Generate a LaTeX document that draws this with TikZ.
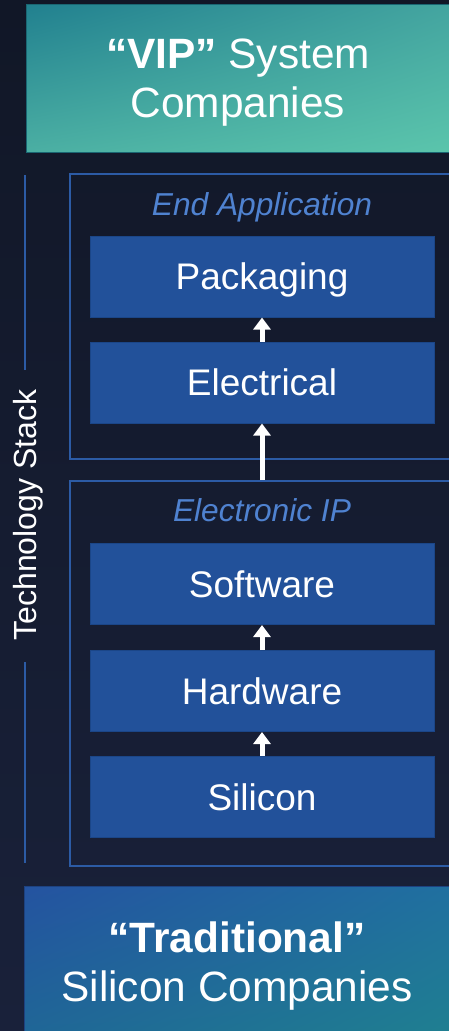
\documentclass[tikz,border=0pt]{standalone}
\usepackage{fontspec}
\setmainfont{Liberation Sans}
\usetikzlibrary{arrows.meta,shadings}
\definecolor{bgtop}{HTML}{111727}
\definecolor{bgbot}{HTML}{19213A}
\definecolor{boxfill}{HTML}{22519A}
\definecolor{boxedge}{HTML}{1B4688}
\definecolor{frameblue}{HTML}{2C5BA5}
\definecolor{titleblue}{HTML}{4F82D0}
\definecolor{tealA}{HTML}{21808F}
\definecolor{tealB}{HTML}{44A5A0}
\definecolor{tealC}{HTML}{4BAFA3}
\definecolor{tealD}{HTML}{5BC5AC}
\definecolor{blueA}{HTML}{2453A0}
\definecolor{blueB}{HTML}{2070A0}
\definecolor{blueC}{HTML}{1F6796}
\definecolor{blueD}{HTML}{1F8090}
\tikzset{
  stackbox/.style={rectangle, fill=boxfill, draw=boxedge, line width=1pt,
    minimum width=344pt, minimum height=81pt, inner sep=0pt,
    text=white, font=\fontsize{37}{44}\selectfont, text height=26.5pt, text depth=0pt},
  framebox/.style={rectangle, draw=frameblue, line width=2pt, inner sep=0pt},
  frametitle/.style={anchor=base, text=titleblue, font=\fontsize{31.7}{38}\selectfont\itshape, inner sep=0pt},
  bigtext/.style={anchor=base, text=white, font=\fontsize{42.4}{50}\selectfont, inner sep=0pt},
  uparrow/.style={draw=white, line width=5pt, -{Triangle[width=17pt,length=12pt]}},
  stackline/.style={draw=frameblue, line width=2.2pt}
}
\begin{document}
\begin{tikzpicture}[x=1pt,y=-1pt]
\useasboundingbox (0,0) rectangle (449,1031);
\clip (0,0) rectangle (449,1031);
\shade[top color=bgtop, bottom color=bgbot] (0,0) rectangle (449,1031);

% top box
\shade[upper left=tealA, upper right=tealB, lower left=tealC, lower right=tealD] (26,4) rectangle (455,152);
\draw[draw=tealA!80!black, line width=1pt] (26,4) rectangle (455,152);
\node[bigtext] (vip1) at (238,68) {\textbf{“VIP”} System};
\node[bigtext] (vip2) at (238,117) {Companies};

% bottom box
\shade[upper left=blueA, upper right=blueB, lower left=blueC, lower right=blueD] (24,886) rectangle (455,1040);
\draw[draw=blueA!80!black, line width=1pt] (24,886) rectangle (455,1040);
\node[bigtext] (trad1) at (237,952) {\textbf{“Traditional”}};
\node[bigtext] (trad2) at (237,1001) {Silicon Companies};

% frames
\node[framebox, minimum width=385pt, minimum height=285pt] (endapp) at (262.5,316.5) {};
\node[framebox, minimum width=385pt, minimum height=385pt] (ipbox) at (262.5,673.5) {};
\node[frametitle] (endt) at (262,215) {End Application};
\node[frametitle] (ipt) at (262,521.5) {Electronic IP};

% stack boxes
\node[stackbox] (pack) at (262,276.5) {Packaging};
\node[stackbox] (elec) at (262,382.5) {Electrical};
\node[stackbox] (sw) at (262,584) {Software};
\node[stackbox] (hw) at (262,691) {Hardware};
\node[stackbox] (si) at (262,797) {Silicon};

% arrows
\draw[uparrow] (elec.north) -- (pack.south);
\draw[uparrow] (elec.south |- ipbox.north) -- (elec.south);
\draw[uparrow] (hw.north) -- (sw.south);
\draw[uparrow] (si.north) -- (hw.south);

% technology stack label
\node[rotate=90, anchor=base, text=white, font=\fontsize{32}{38}\selectfont, inner sep=0pt] (ts) at (36.5,515) {Technology Stack};
\coordinate (la) at (25,175);
\coordinate (lb) at (25,370);
\coordinate (lc) at (25,662);
\coordinate (ld) at (25,863);
\draw[stackline] (la) -- (lb);
\draw[stackline] (lc) -- (ld);
\end{tikzpicture}
\end{document}
